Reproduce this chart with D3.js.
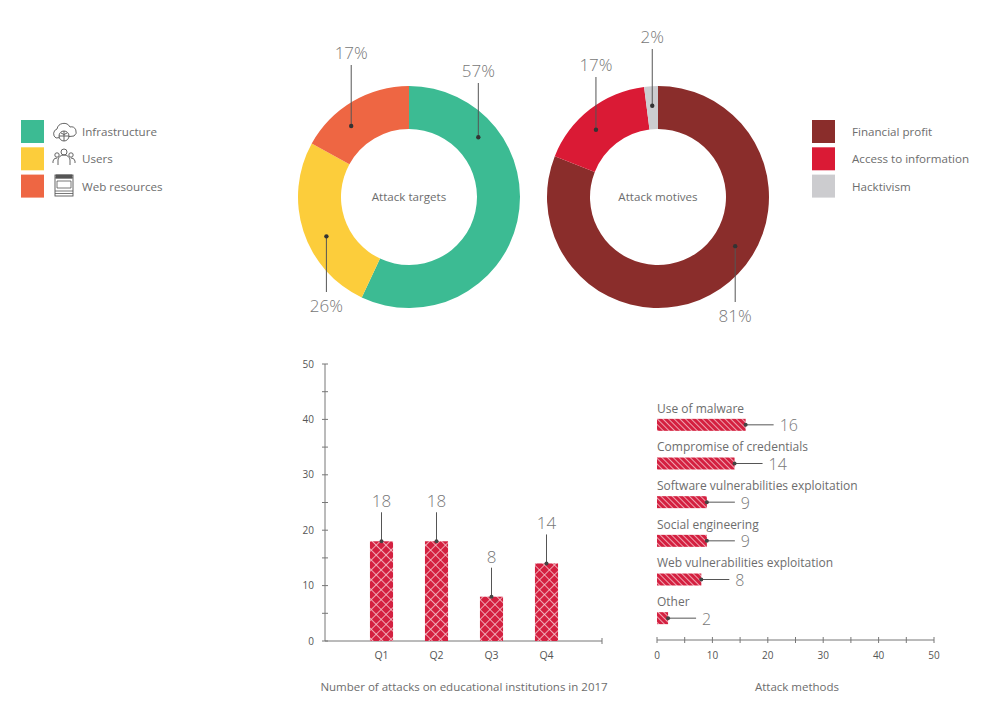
<!DOCTYPE html>
<html>
<head>
<meta charset="utf-8">
<script src="https://cdn.jsdelivr.net/npm/d3@7"></script>
<style>
  body { margin: 0; background: #fff; }
  svg text { font-family: "Open Sans", "Noto Sans", sans-serif; }
</style>
</head>
<body>
<div id="chart"></div>
<script>
// chart data
const targetLabels = ["Infrastructure", "Users", "Web resources"];
const targetValues = [57, 26, 17];
const targetColors = ["#3cbb93", "#fccd3b", "#ee6643"];

const motiveLabels = ["Financial profit", "Access to information", "Hacktivism"];
const motiveValues = [81, 17, 2];
const motiveColors = ["#8a2d2b", "#da1a35", "#cccccf"];

const quarters = ["Q1", "Q2", "Q3", "Q4"];
const quarterValues = [18, 18, 8, 14];

const methodLabels = ["Use of malware", "Compromise of credentials", "Software vulnerabilities exploitation",
    "Social engineering", "Web vulnerabilities exploitation", "Other"];
const methodValues = [16, 14, 9, 9, 8, 2];

const axisTicks = [0, 10, 20, 30, 40, 50];

const width = 996;
const height = 721;
const textColor = "#6d6d6d";
const barRed = "#d42040";

const svg = d3.select("#chart")
    .append("svg")
    .attr("width", width)
    .attr("height", height);

// patterns
const defs = svg.append("defs");
const cross = defs.append("pattern")
    .attr("id", "cross")
    .attr("patternUnits", "userSpaceOnUse")
    .attr("width", 7).attr("height", 7)
    .attr("patternTransform", "rotate(45)");
cross.append("rect").attr("width", 7).attr("height", 7).attr("fill", barRed);
cross.append("line").attr("x1", 0).attr("y1", 0).attr("x2", 7).attr("y2", 0)
    .attr("stroke", "#f7c9d0").attr("stroke-width", 1.6);
cross.append("line").attr("x1", 0).attr("y1", 0).attr("x2", 0).attr("y2", 7)
    .attr("stroke", "#f7c9d0").attr("stroke-width", 1.6);

const stripes = defs.append("pattern")
    .attr("id", "stripes")
    .attr("patternUnits", "userSpaceOnUse")
    .attr("width", 4).attr("height", 4)
    .attr("patternTransform", "rotate(-45)");
stripes.append("rect").attr("width", 4).attr("height", 4).attr("fill", barRed);
stripes.append("line").attr("x1", 0).attr("y1", 0).attr("x2", 0).attr("y2", 4)
    .attr("stroke", "#f6c5cd").attr("stroke-width", 1.6);

// Donut charts
const outerR = 111, innerR = 68;
const pie = d3.pie().sort(null).value(d => d);
const arc = d3.arc().innerRadius(innerR).outerRadius(outerR);

// dotFrac: where the leader dot sits inside each slice, lineEnd: y where the leader stops
function drawDonut(cx, cy, values, colors, title, dotFrac, lineEnd) {
    const g = svg.append("g").attr("transform", `translate(${cx},${cy})`);
    const arcs = pie(values);

    g.selectAll("path")
        .data(arcs)
        .enter().append("path")
        .attr("d", arc)
        .attr("fill", (d, i) => colors[i]);

    g.append("text")
        .attr("text-anchor", "middle")
        .attr("dy", "0.35em")
        .attr("font-size", 11.6)
        .attr("fill", textColor)
        .text(title);

    arcs.forEach((d, i) => {
        const a = d.startAngle + (d.endAngle - d.startAngle) * dotFrac[i];
        const r = (innerR + outerR) / 2 + 2;
        const x = r * Math.sin(a);
        const y = -r * Math.cos(a);
        const y2 = lineEnd[i] - cy;
        g.append("line")
            .attr("x1", x).attr("y1", y)
            .attr("x2", x).attr("y2", y2)
            .attr("stroke", "#555").attr("stroke-width", 1);
        g.append("circle")
            .attr("cx", x).attr("cy", y).attr("r", 2.2)
            .attr("fill", "#333");
        const up = y2 < y;
        g.append("text")
            .attr("x", x)
            .attr("y", up ? y2 - 6 : y2 + 20)
            .attr("text-anchor", "middle")
            .attr("font-size", 17)
            .attr("font-weight", 300)
            .attr("fill", "#777")
            .text(d.data + "%");
    });
}

drawDonut(409, 197, targetValues, targetColors, "Attack targets", [0.24, 0.42, 0.36], [83, 292, 65]);
drawDonut(658, 197, motiveValues, motiveColors, "Attack motives", [0.42, 0.42, 0.5], [302, 77, 49]);

// Legends
function drawLegend(x, y, labels, colors, textX) {
    const g = svg.append("g");
    labels.forEach((lab, i) => {
        g.append("rect")
            .attr("x", x).attr("y", y + i * 27.3)
            .attr("width", 23).attr("height", 23)
            .attr("fill", colors[i]);
        g.append("text")
            .attr("x", textX).attr("y", y + i * 27.3 + 12)
            .attr("dy", "0.35em")
            .attr("font-size", 11.6)
            .attr("fill", textColor)
            .text(lab);
    });
}
drawLegend(21, 120, targetLabels, targetColors, 82);
drawLegend(812, 120, motiveLabels, motiveColors, 852);

// simple line icons for the left legend
const icons = svg.append("g")
    .attr("fill", "none").attr("stroke", "#555").attr("stroke-width", 0.9);
// cloud + globe
icons.append("path").attr("d", "M56,138 a5,5 0 0 1 1,-9 a7,7 0 0 1 13,-2 a5,5 0 0 1 4,9 Z");
icons.append("circle").attr("cx", 64).attr("cy", 136).attr("r", 5).attr("fill", "#fff");
icons.append("path").attr("d", "M59,136 h10 M64,131 v10 M61,133 q3,3 6,0");
// users
icons.append("circle").attr("cx", 64).attr("cy", 152).attr("r", 3);
icons.append("path").attr("d", "M58,165 v-5 a6,5 0 0 1 12,0 v5");
icons.append("circle").attr("cx", 57).attr("cy", 155).attr("r", 2.2);
icons.append("circle").attr("cx", 71).attr("cy", 155).attr("r", 2.2);
icons.append("path").attr("d", "M53,163 v-2 a4,4 0 0 1 4,-3 M75,163 v-2 a4,4 0 0 0 -4,-3");
// web page
icons.append("rect").attr("x", 55).attr("y", 175).attr("width", 18).attr("height", 21);
icons.append("path").attr("d", "M55,178 h18 M57,181 h14 v7 h-14 Z M55,191 h18 M55,193.5 h18")
    .attr("stroke-width", 0.8);
icons.append("path").attr("d", "M56,175 h16 v3 h-16 Z").attr("fill", "#555");

// Quarterly bar chart
const y = d3.scaleLinear().domain([0, 50]).range([641, 364]);
const x = d3.scaleBand().domain(quarters).range([354, 574]).paddingInner(0.58).paddingOuter(0.29);

const axisColor = "#777";
const yAxis = svg.append("g").attr("transform", "translate(325,0)");
yAxis.append("line").attr("x1", 0).attr("x2", 0).attr("y1", y(0)).attr("y2", y(50))
    .attr("stroke", axisColor);
yAxis.selectAll("line.tick")
    .data(d3.range(0, 51, 5))
    .enter().append("line")
    .attr("class", "tick")
    .attr("x1", -3).attr("x2", 3)
    .attr("y1", d => y(d)).attr("y2", d => y(d))
    .attr("stroke", axisColor);
yAxis.selectAll("text")
    .data(axisTicks)
    .enter().append("text")
    .attr("x", -11)
    .attr("y", d => y(d))
    .attr("dy", "0.35em")
    .attr("text-anchor", "end")
    .attr("font-size", 10)
    .attr("fill", "#555")
    .text(d => d);

svg.append("line").attr("x1", 325).attr("x2", 602).attr("y1", y(0)).attr("y2", y(0))
    .attr("stroke", axisColor);
svg.append("line").attr("x1", 602).attr("x2", 602).attr("y1", y(0) - 3).attr("y2", y(0) + 3)
    .attr("stroke", axisColor);

svg.append("g").selectAll("rect")
    .data(quarterValues)
    .enter().append("rect")
    .attr("x", (d, i) => x(quarters[i]))
    .attr("y", d => y(d))
    .attr("width", x.bandwidth())
    .attr("height", d => y(0) - y(d))
    .attr("fill", "url(#cross)");

const qLabels = svg.append("g");
quarterValues.forEach((v, i) => {
    const cx = x(quarters[i]) + x.bandwidth() / 2;
    qLabels.append("line")
        .attr("x1", cx).attr("x2", cx)
        .attr("y1", y(v)).attr("y2", y(v) - 29)
        .attr("stroke", "#555");
    qLabels.append("circle").attr("cx", cx).attr("cy", y(v)).attr("r", 2).attr("fill", "#444");
    qLabels.append("text")
        .attr("x", cx).attr("y", y(v) - 34)
        .attr("text-anchor", "middle")
        .attr("font-size", 17)
        .attr("font-weight", 300)
        .attr("fill", "#777")
        .text(v);
    qLabels.append("text")
        .attr("x", cx).attr("y", 655)
        .attr("dy", "0.35em")
        .attr("text-anchor", "middle")
        .attr("font-size", 10.5)
        .attr("fill", "#555")
        .text(quarters[i]);
});

svg.append("text")
    .attr("x", 464).attr("y", 687)
    .attr("dy", "0.35em")
    .attr("text-anchor", "middle")
    .attr("font-size", 11.5)
    .attr("fill", textColor)
    .text("Number of attacks on educational institutions in 2017");

// Attack methods horizontal bars
const hx = d3.scaleLinear().domain([0, 50]).range([657, 934]);
const hy = d3.scaleBand().domain(methodLabels).range([405.5, 637.5]).paddingInner(0.69).paddingOuter(0.345);

svg.append("line").attr("x1", hx(0)).attr("x2", hx(50)).attr("y1", 640).attr("y2", 640)
    .attr("stroke", axisColor);
svg.append("g").selectAll("line")
    .data(d3.range(0, 51, 5))
    .enter().append("line")
    .attr("x1", d => hx(d)).attr("x2", d => hx(d))
    .attr("y1", 637).attr("y2", 643)
    .attr("stroke", axisColor);
svg.append("g").selectAll("text")
    .data(axisTicks)
    .enter().append("text")
    .attr("x", d => hx(d)).attr("y", 655)
    .attr("dy", "0.35em")
    .attr("text-anchor", "middle")
    .attr("font-size", 10)
    .attr("fill", "#555")
    .text(d => d);

const rows = svg.append("g");
methodValues.forEach((v, i) => {
    const top = hy(methodLabels[i]);
    const h = hy.bandwidth();
    const cy = top + h / 2;
    rows.append("rect")
        .attr("x", hx(0)).attr("y", top)
        .attr("width", hx(v) - hx(0)).attr("height", h)
        .attr("fill", "url(#stripes)");
    rows.append("text")
        .attr("x", hx(0)).attr("y", cy - 16.5)
        .attr("dy", "0.35em")
        .attr("font-size", 12)
        .attr("fill", textColor)
        .text(methodLabels[i]);
    rows.append("line")
        .attr("x1", hx(v)).attr("x2", hx(v) + 28)
        .attr("y1", cy).attr("y2", cy)
        .attr("stroke", "#555");
    rows.append("circle").attr("cx", hx(v)).attr("cy", cy).attr("r", 2).attr("fill", "#444");
    rows.append("text")
        .attr("x", hx(v) + 34).attr("y", cy + 1)
        .attr("dy", "0.35em")
        .attr("font-size", 16)
        .attr("font-weight", 300)
        .attr("fill", "#777")
        .text(v);
});

svg.append("text")
    .attr("x", 797).attr("y", 687)
    .attr("dy", "0.35em")
    .attr("text-anchor", "middle")
    .attr("font-size", 11.5)
    .attr("fill", textColor)
    .text("Attack methods");
</script>
</body>
</html>
